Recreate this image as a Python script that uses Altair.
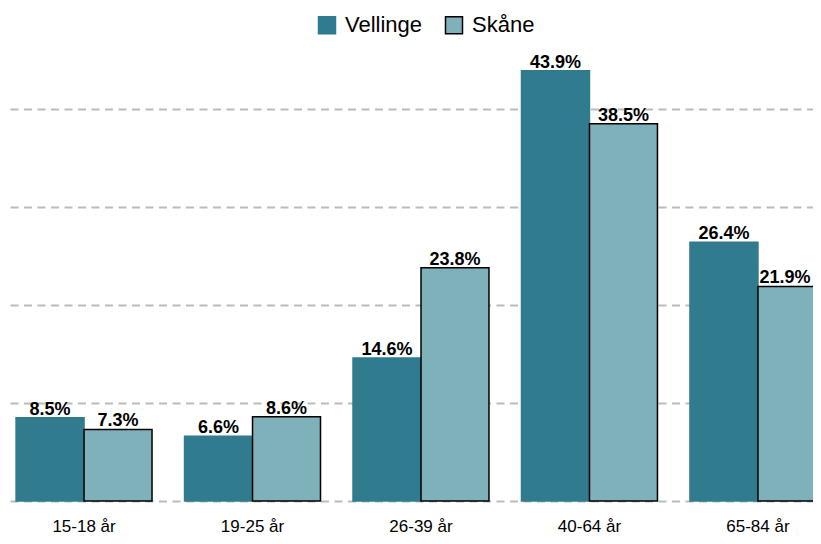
import altair as alt
import pandas as pd

categories = ["15-18 år", "19-25 år", "26-39 år", "40-64 år", "65-84 år"]
series = ["Vellinge", "Skåne"]
vellinge = [8.5, 6.6, 14.6, 43.9, 26.4]
skane = [7.3, 8.6, 23.8, 38.5, 21.9]
colors = ["#307b8e", "#7eb1ba"]
strokes = ["#307b8e", "#000000"]

rows = []
for c, v, s in zip(categories, vellinge, skane):
    rows.append({"cat": c, "series": "Vellinge", "value": v})
    rows.append({"cat": c, "series": "Skåne", "value": s})
df = pd.DataFrame(rows)
df["label"] = df["value"].map(lambda v: f"{v:.1f}%")
df["edge"] = (df["cat"] == categories[-1]) & (df["series"] == series[-1])

FONT = "Liberation Sans"

x = alt.X("cat:N", sort=categories, title=None,
          scale=alt.Scale(paddingInner=0.193, paddingOuter=0.036),
          axis=alt.Axis(labelAngle=0, labelFontSize=17, labelFont=FONT, labelColor="#000",
                        domain=False, ticks=False, labelPadding=17, grid=False))
xoff = alt.XOffset("series:N", sort=series,
                   scale=alt.Scale(paddingInner=0, paddingOuter=0))
y = alt.Y("value:Q", title=None,
          scale=alt.Scale(domain=[0, 45], nice=False),
          axis=alt.Axis(values=[0, 10, 20, 30, 40], labels=False, ticks=False, domain=False,
                        grid=True, gridColor="#bbbbbb", gridDash=[8, 5.5], gridWidth=2))

legend = alt.Legend(title=None, orient="none", direction="horizontal",
                    legendX=306, legendY=-46, symbolType="square",
                    symbolSize=289, symbolStrokeWidth=1.5,
                    labelFontSize=22, labelFont=FONT, labelColor="#000",
                    columnPadding=19, labelOffset=7, padding=0)

base = alt.Chart(df).encode(x=x, xOffset=xoff)

bars = base.mark_bar(strokeWidth=1.5).encode(
    y=y,
    fill=alt.Fill("series:N", sort=series, scale=alt.Scale(domain=series, range=colors),
                  legend=legend),
    stroke=alt.Stroke("series:N", sort=series, scale=alt.Scale(domain=series, range=strokes),
                      legend=legend),
)

text_enc = dict(
    y=alt.Y("value:Q", scale=alt.Scale(domain=[0, 45], nice=False)),
    text="label:N",
)
texts = base.transform_filter("!datum.edge").mark_text(
    fontSize=18, fontWeight="bold", font=FONT, color="#000",
    baseline="alphabetic", dy=-3).encode(**text_enc)
edge_text = base.transform_filter("datum.edge").mark_text(
    fontSize=18, fontWeight="bold", font=FONT, color="#000",
    baseline="alphabetic", dy=-3, dx=-7).encode(**text_enc)

chart = alt.layer(bars, texts, edge_text).properties(
    width=822, height=441,
    autosize=alt.AutoSizeParams(type="none"),
    padding={"left": 2, "top": 52, "right": -19, "bottom": 35},
).configure_view(stroke=None)

chart.save("out.html", embed_options={"renderer": "svg", "actions": False})
